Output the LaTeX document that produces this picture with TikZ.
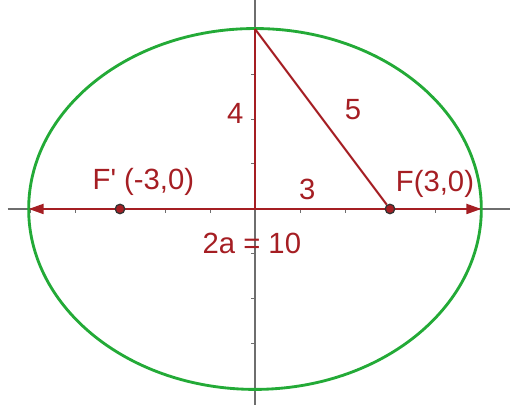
\documentclass[tikz,border=0pt]{standalone}
\usepackage{fontspec}
\setmainfont[Ligatures=NoCommon]{Liberation Sans}
\usetikzlibrary{arrows.meta}
\definecolor{curvered}{RGB}{165,30,35}
\definecolor{curvegreen}{RGB}{35,170,55}
\definecolor{axisgray}{RGB}{110,110,110}
\begin{document}
\begin{tikzpicture}[x=1cm, y=1cm,
    every node/.style={text=curvered, font=\fontsize{18.5}{22}\selectfont, inner sep=1pt},
    focus/.style={circle, draw=black!80, fill=curvered, line width=0.8pt, minimum size=6pt, inner sep=0pt},
    side/.style={curvered, line width=1.3pt},
    tick/.style={axisgray, line width=0.6pt}]
    \useasboundingbox (-5.667,-4.356) rectangle (5.667,4.644);

    % Axes
    \draw[axisgray, line width=1pt] (-5.5,0) -- (5.7,0);
    \draw[axisgray, line width=1pt] (0,-4.4) -- (0,4.7);
    \foreach \k in {-5,...,-1,1,2,...,5} {
        \draw[tick] (\k,0) -- (\k,-0.08);
        \draw[tick] (0,\k) -- (-0.08,\k);
    }

    % Ellipse
    \draw[curvegreen, line width=1.8pt] (0,0) ellipse (5.03 and 4.01);

    % Points
    \coordinate (origin) at (0,0);
    \coordinate (top) at (0,4);
    \coordinate (left) at (-5.03,0);
    \coordinate (right) at (5.03,0);

    % Arrows
    \draw[side, -{Triangle[length=0.33cm, width=0.22cm]}] (origin) -- (left);
    \draw[side, -{Triangle[length=0.33cm, width=0.22cm]}] (origin) -- (right);
    \draw[side] (origin) -- (top);

    % Foci
    \node (fleft) [focus] at (-3,0) {};
    \node (fright) [focus] at (3,0) {};
    \draw[side] (top) -- (fright);

    % Labels
    \node (fleftlabel) at (-2.48,0.6) {F\textquotesingle\ (-3,0)};
    \node (frightlabel) at (4.0,0.55) {F(3,0)};
    \node (baselabel) at (1.16,0.44) {3};
    \node (hyplabel) at (2.18,2.2) {5};
    \node (heightlabel) at (-0.44,2.13) {4};
    \node (majorlabel) at (-0.07,-0.76) {2a = 10};
\end{tikzpicture}
\end{document}
